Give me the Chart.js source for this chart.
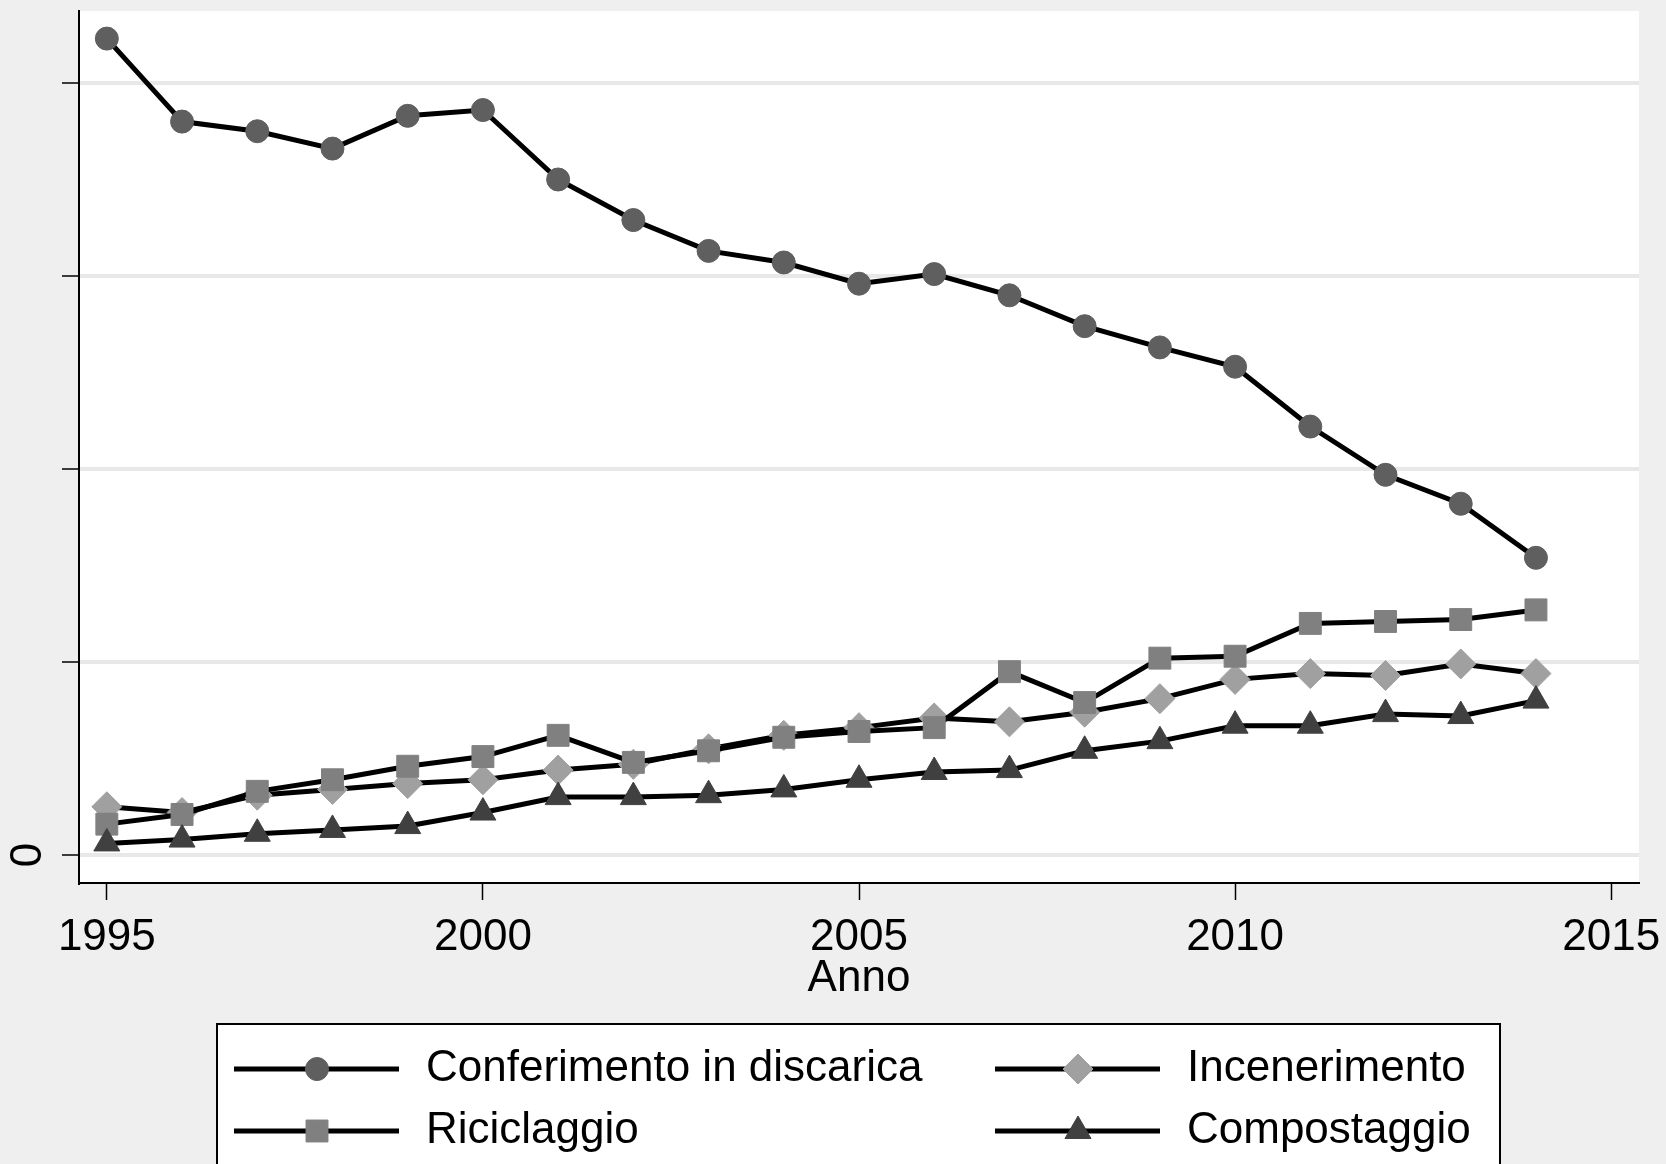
<!DOCTYPE html>
<html>
<head>
<meta charset="utf-8">
<script src="https://cdn.jsdelivr.net/npm/chart.js@4/dist/chart.umd.min.js"></script>
<style>
  html, body { margin: 0; padding: 0; background: #efefef; }
  #wrap { width: 1666px; height: 1164px; }
</style>
</head>
<body>
<div id="wrap"><canvas id="chart" width="1666" height="1164"></canvas></div>
<script>
// dati
const anni = [1995, 1996, 1997, 1998, 1999, 2000, 2001, 2002, 2003, 2004,
              2005, 2006, 2007, 2008, 2009, 2010, 2011, 2012, 2013, 2014];
const discarica = [42.3, 38.0, 37.5, 36.6, 38.3, 38.6, 35.0, 32.9, 31.3, 30.7,
                   29.6, 30.1, 29.0, 27.4, 26.3, 25.3, 22.2, 19.7, 18.2, 15.4];
const incenerimento = [2.5, 2.2, 3.1, 3.4, 3.7, 3.9, 4.4, 4.7, 5.5, 6.2,
                       6.6, 7.1, 6.9, 7.4, 8.1, 9.1, 9.4, 9.3, 9.9, 9.4];
const riciclaggio = [1.6, 2.1, 3.3, 3.9, 4.6, 5.1, 6.2, 4.8, 5.4, 6.1,
                     6.4, 6.6, 9.5, 7.9, 10.2, 10.3, 12.0, 12.1, 12.2, 12.7];
const compostaggio = [0.6, 0.8, 1.1, 1.3, 1.5, 2.2, 3.0, 3.0, 3.1, 3.4,
                      3.9, 4.3, 4.4, 5.4, 5.9, 6.7, 6.7, 7.3, 7.2, 8.0];
const xTicks = [1995, 2000, 2005, 2010, 2015];
const yTicks = [0, 10, 20, 30, 40];
const yLabels = ['0', '', '', '', ''];

const FONT = "'Liberation Sans', Arial, sans-serif";
const SIZE = 44;

function serie(label, values, style, radius, color, order) {
    return {
        label: label,
        data: anni.map((a, i) => ({ x: a, y: values[i] })),
        borderColor: '#000',
        borderWidth: 5,
        tension: 0,
        pointStyle: style,
        pointRadius: radius,
        pointHoverRadius: radius,
        pointBackgroundColor: color,
        pointBorderColor: color,
        pointBorderWidth: 1,
        order: order
    };
}

// sfondo grigio fuori, bianco nell'area del grafico
const sfondo = {
    id: 'sfondo',
    beforeDraw(chart) {
        const { ctx, chartArea: a } = chart;
        ctx.save();
        ctx.fillStyle = '#efefef';
        ctx.fillRect(0, 0, chart.width, chart.height);
        ctx.fillStyle = '#ffffff';
        ctx.fillRect(a.left, a.top, a.right - a.left, a.bottom - a.top);
        ctx.restore();
    }
};

// etichette asse y ruotate (Stata le scrive in verticale)
const etichetteY = {
    id: 'etichetteY',
    afterDraw(chart) {
        const ctx = chart.ctx;
        const y = chart.scales.y;
        ctx.save();
        ctx.fillStyle = '#000';
        ctx.font = SIZE + 'px ' + FONT;
        ctx.textAlign = 'center';
        ctx.textBaseline = 'middle';
        yTicks.forEach((v, i) => {
            if (!yLabels[i]) return;
            ctx.save();
            ctx.translate(29, y.getPixelForValue(v));
            ctx.rotate(-Math.PI / 2);
            ctx.fillText(yLabels[i], 0, 0);
            ctx.restore();
        });
        ctx.restore();
    }
};

// legenda disegnata a mano sotto il grafico
const legenda = {
    id: 'legenda',
    afterDraw(chart) {
        const ctx = chart.ctx;
        const ds = chart.data.datasets;
        ctx.save();
        ctx.fillStyle = '#fff';
        ctx.fillRect(217, 1024, 1283, 160);
        ctx.strokeStyle = '#000';
        ctx.lineWidth = 2;
        ctx.strokeRect(217, 1024, 1283, 160);

        const items = [
            { d: ds[0], x: 234, y: 1069 },
            { d: ds[1], x: 995, y: 1069 },
            { d: ds[2], x: 234, y: 1131 },
            { d: ds[3], x: 995, y: 1131 }
        ];
        items.forEach(it => {
            ctx.strokeStyle = '#000';
            ctx.lineWidth = 5;
            ctx.beginPath();
            ctx.moveTo(it.x, it.y);
            ctx.lineTo(it.x + 165, it.y);
            ctx.stroke();
            ctx.fillStyle = it.d.pointBackgroundColor;
            ctx.strokeStyle = it.d.pointBorderColor;
            ctx.lineWidth = 1;
            Chart.helpers.drawPoint(ctx, {
                pointStyle: it.d.pointStyle,
                radius: it.d.pointRadius,
                rotation: 0,
                borderWidth: 1
            }, it.x + 83, it.y);
            ctx.fillStyle = '#000';
            ctx.font = SIZE + 'px ' + FONT;
            ctx.textBaseline = 'middle';
            ctx.textAlign = 'left';
            ctx.fillText(it.d.label, it.x + 192, it.y);
        });
        ctx.restore();
    }
};

new Chart(document.getElementById('chart'), {
    type: 'line',
    data: {
        datasets: [
            serie('Conferimento in discarica', discarica, 'circle', 11.5, '#5f5f5f', 4),
            serie('Incenerimento', incenerimento, 'rectRot', 15, '#a0a0a0', 3),
            serie('Riciclaggio', riciclaggio, 'rect', 15.5, '#808080', 2),
            serie('Compostaggio', compostaggio, 'triangle', 15, '#404040', 1)
        ]
    },
    options: {
        responsive: false,
        animation: false,
        layout: { autoPadding: false, padding: { left: 0, top: 11, right: 27, bottom: 159 } },
        plugins: {
            legend: { display: false },
            tooltip: { enabled: false }
        },
        scales: {
            x: {
                type: 'linear',
                min: 1994.63,
                max: 2015.37,
                afterBuildTicks: s => { s.ticks = xTicks.map(v => ({ value: v })); },
                afterFit: s => { s.height = 122; s.paddingLeft = 0; s.paddingRight = 0; },
                grid: { drawOnChartArea: false, drawTicks: true, tickLength: 17, tickColor: '#000', tickWidth: 1.5 },
                border: { display: true, color: '#000', width: 2 },
                ticks: {
                    color: '#000',
                    font: { family: FONT, size: SIZE },
                    padding: 11,
                    maxRotation: 0,
                    callback: v => String(v)
                },
                title: {
                    display: true,
                    text: 'Anno',
                    color: '#000',
                    font: { family: FONT, size: SIZE },
                    padding: 0
                }
            },
            y: {
                min: -1.45,
                max: 43.73,
                afterBuildTicks: s => { s.ticks = yTicks.map(v => ({ value: v })); },
                afterFit: s => { s.width = 79; s.paddingTop = 0; s.paddingBottom = 0; },
                grid: { color: '#e8e8e8', lineWidth: 4, drawTicks: true, tickLength: 17, tickColor: '#000', tickWidth: 1.5 },
                border: { display: true, color: '#000', width: 2 },
                ticks: {
                    display: true,
                    color: '#000',
                    font: { family: FONT, size: SIZE },
                    callback: () => ''
                }
            }
        }
    },
    plugins: [sfondo, etichetteY, legenda]
});
</script>
</body>
</html>
